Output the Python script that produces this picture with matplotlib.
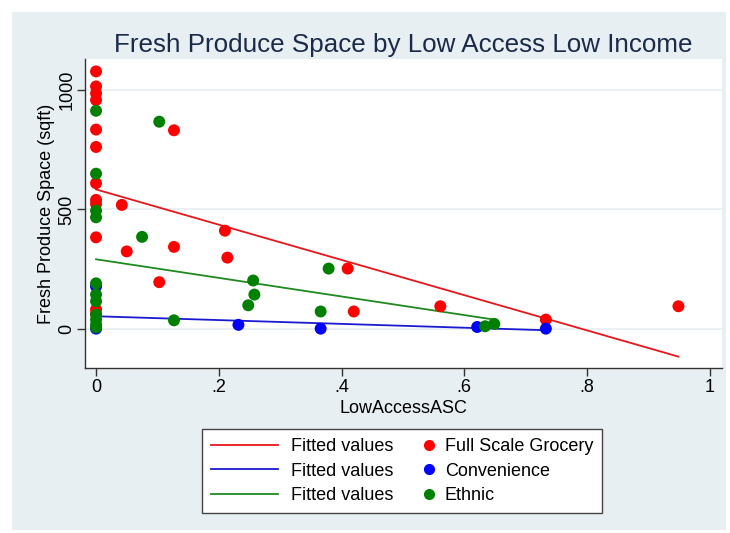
import numpy as np
import matplotlib
matplotlib.use("Agg")
import matplotlib.pyplot as plt
from matplotlib.lines import Line2D
from matplotlib.patches import Rectangle
from matplotlib.legend_handler import HandlerBase

plt.rcParams['font.family'] = ['Liberation Sans', 'DejaVu Sans']

# store-type observations: share of low access tracts vs. produce space
grocery_x = [0, 0, 0, 0, 0, 0, 0, 0, 0, 0, 0, 0,
             0.042, 0.050, 0.103, 0.127, 0.127, 0.210, 0.214,
             0.410, 0.420, 0.561, 0.733, 0.949]
grocery_y = [1079, 1016, 987, 959, 835, 762, 610, 540, 523, 383, 80, 62,
             519, 324, 195, 832, 343, 411, 298,
             252, 72, 94, 38, 94]

convenience_x = [0, 0, 0.232, 0.366, 0.621, 0.733]
convenience_y = [177, 0, 16, 0, 7, 0]

ethnic_x = [0, 0, 0, 0, 0, 0, 0, 0, 0, 0, 0,
            0.075, 0.103, 0.127, 0.248, 0.256, 0.258,
            0.366, 0.379, 0.634, 0.649]
ethnic_y = [914, 650, 495, 467, 190, 143, 115, 59, 38, 17, 5,
            385, 868, 35, 98, 202, 143,
            72, 252, 10, 20]

# linear fits: (intercept, slope)
grocery_fit = (584, -739)
convenience_fit = (52, -80)
ethnic_fit = (291, -390)

series = [
    ("Full Scale Grocery", grocery_x, grocery_y, grocery_fit, "#ff0000", "#e8161b"),
    ("Convenience", convenience_x, convenience_y, convenience_fit, "#0000ff", "#1a1ad0"),
    ("Ethnic", ethnic_x, ethnic_y, ethnic_fit, "#008000", "#1f8a1f"),
]


class RightDot(HandlerBase):
    """Legend handler that puts the marker at the right end of the handle box."""
    def create_artists(self, legend, orig_handle, xdescent, ydescent,
                       width, height, fontsize, trans):
        x = width - xdescent - 2.5
        y = height / 2 - ydescent
        dot = Line2D([x], [y], marker="o", ls="none",
                     color=orig_handle.get_color(),
                     ms=orig_handle.get_markersize(), transform=trans)
        return [dot]


W, H = 730, 533
fig = plt.figure(figsize=(W / 100, H / 100), dpi=100)
fig.patch.set_facecolor("white")
fig.patches.append(Rectangle((12 / W, 3 / H), 714 / W, 518 / H,
                             transform=fig.transFigure, facecolor="#e8eff2",
                             edgecolor="none", zorder=-5))

ax = fig.add_axes([85 / W, 1 - 368 / H, (722 - 85) / W, (368 - 59) / H])
ax.set_facecolor("white")

line_handles = []
dot_handles = []
for name, xs, ys, (b0, b1), dot_col, line_col in series:
    xs = np.array(xs)
    xf = np.array([xs.min(), xs.max()])
    ax.plot(xf, b0 + b1 * xf, color=line_col, lw=1.3, zorder=2)
    line_handles.append(Line2D([], [], color=line_col, lw=1.3))
    dot_handles.append(Line2D([], [], color=dot_col, marker="o", ls="none", ms=7))

for name, xs, ys, fit, dot_col, line_col in series:
    ax.scatter(xs, ys, s=74, color=dot_col, edgecolors="none", zorder=3)

ax.set_xlim(-0.018, 1.02)
ax.set_ylim(-165, 1131)
ax.set_xticks([0, 0.2, 0.4, 0.6, 0.8, 1])
ax.set_xticklabels(["0", ".2", ".4", ".6", ".8", "1"])
ax.set_yticks([0, 500, 1000])
ax.set_yticklabels(["0", "500", "1000"], rotation=90, va="center")
ax.yaxis.grid(True, color="#e6eef1", lw=1.2)
ax.set_axisbelow(True)

for s in ["top", "right"]:
    ax.spines[s].set_visible(False)
for s in ["left", "bottom"]:
    ax.spines[s].set_color("#333333")
    ax.spines[s].set_linewidth(1.0)
ax.tick_params(direction="out", length=6, width=1, color="#333333",
               labelsize=13)
ax.tick_params(axis="x", pad=2)
ax.tick_params(axis="y", pad=1)

ax.set_xlabel("LowAccessASC", fontsize=13, labelpad=3)
ax.set_ylabel("Fresh Produce Space (sqft)", fontsize=13, labelpad=2)
ax.set_title("Fresh Produce Space by Low Access Low Income",
             fontsize=18.7, color="#1c2a4a", pad=5)

labels = ["Fitted values"] * 3 + [s[0] for s in series]
handler_map = {h: RightDot() for h in dot_handles}
leg = fig.legend(line_handles + dot_handles, labels, ncol=2,
                 loc="center", bbox_to_anchor=(402 / W, 1 - 471 / H),
                 fontsize=13, frameon=True, fancybox=False,
                 edgecolor="#444444", framealpha=1, handlelength=3.75,
                 handletextpad=0.7, columnspacing=-1.6, labelspacing=0.42,
                 borderpad=0.5, handler_map=handler_map)
leg.get_frame().set_linewidth(1.0)

fig.savefig("out.png", dpi=100, facecolor=fig.get_facecolor())
